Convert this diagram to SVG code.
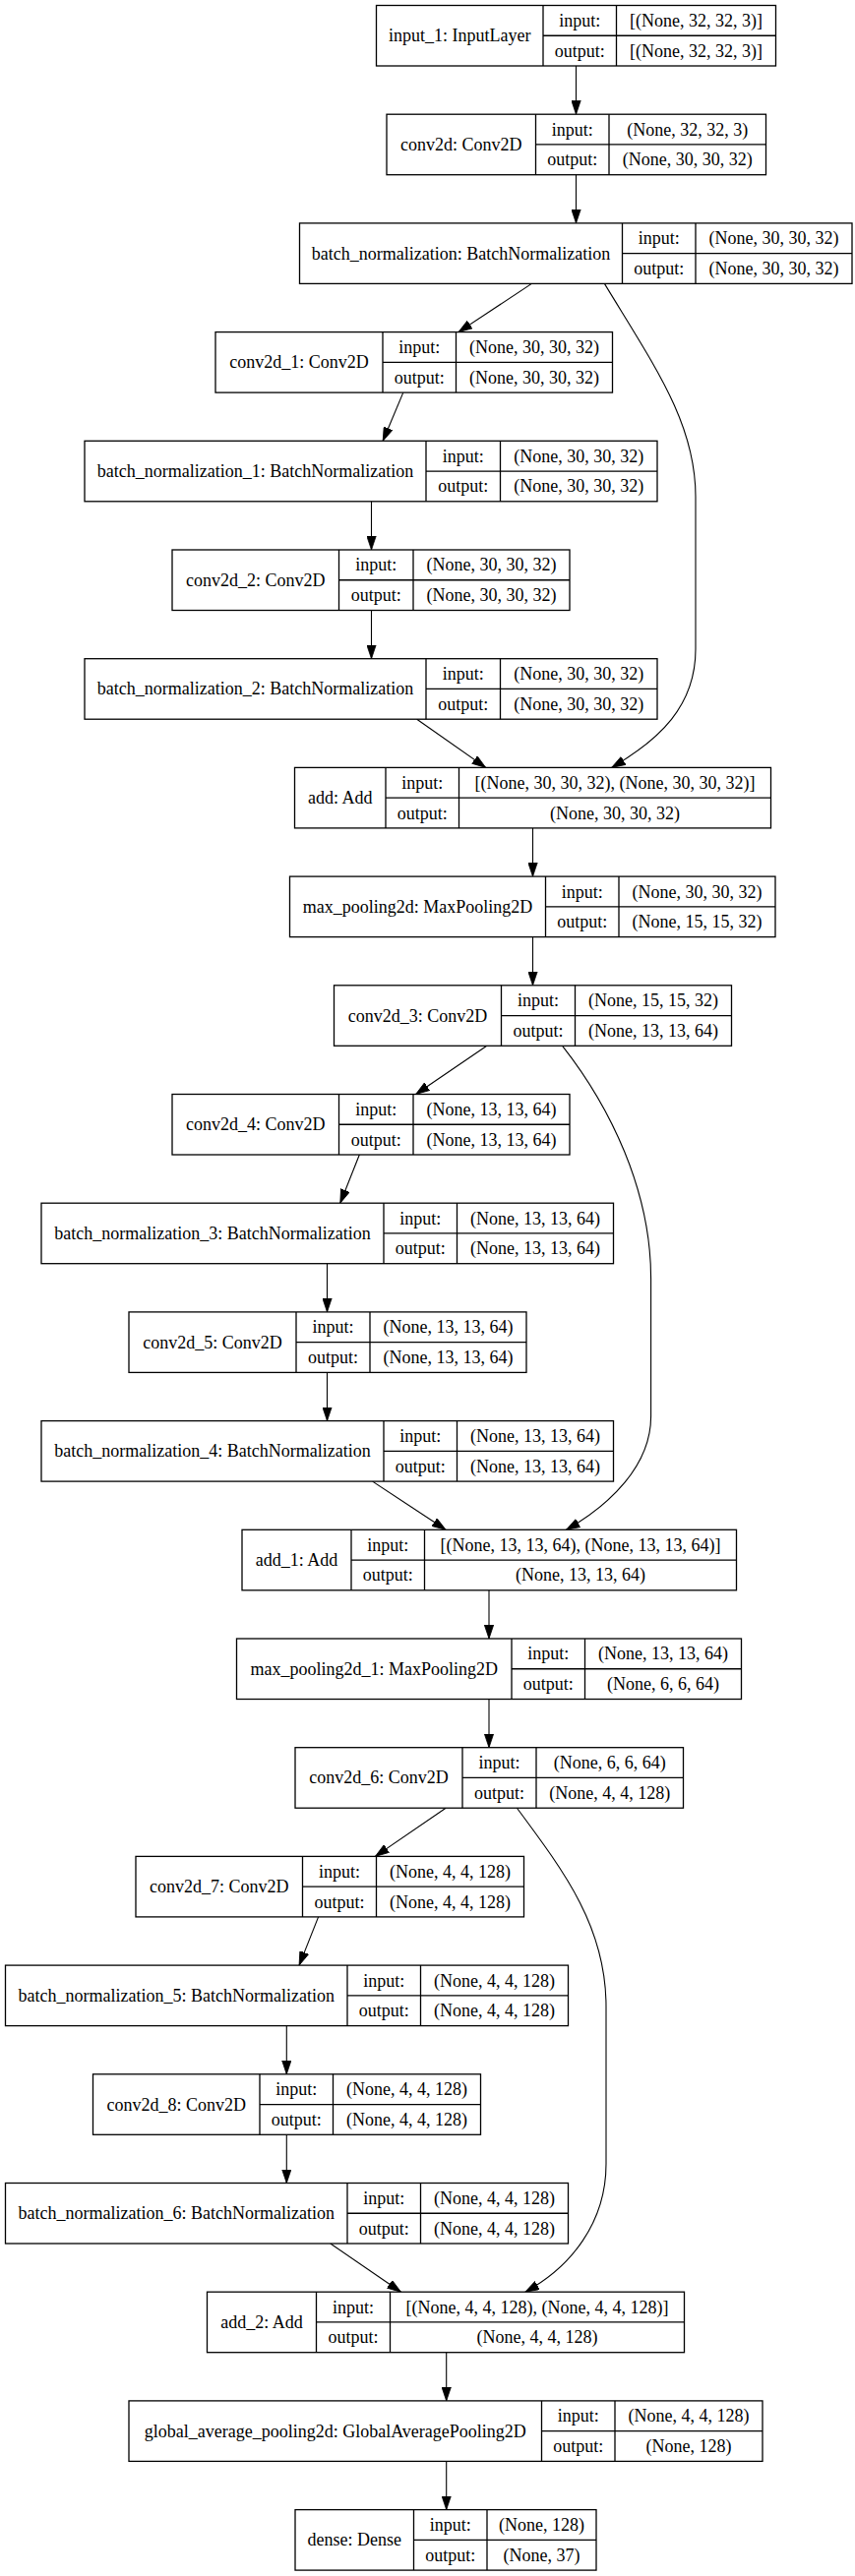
<svg xmlns="http://www.w3.org/2000/svg" width="869" height="2619" viewBox="0 0 869 2619">
<style>
.bg{fill:#ffffff}
.node rect{fill:#ffffff;stroke:#000000;stroke-width:1.3}
.node path{fill:none;stroke:#000000;stroke-width:1.3}
text{font-family:"Liberation Serif","Times New Roman",serif;font-size:18px;fill:#000000;text-anchor:middle}
.edges path{fill:none;stroke:#000000;stroke-width:1.1}
</style>
<defs>
<marker id="arr" markerUnits="userSpaceOnUse" viewBox="0 0 14 10" markerWidth="14" markerHeight="10" refX="14" refY="5" orient="auto">
<path d="M0,0.3 L14,5 L0,9.7 z" fill="#000000" stroke="#000000" stroke-width="0.8"/>
</marker>
</defs>
<rect class="bg" x="0" y="0" width="869" height="2619"/>

<g class="edges" id="edges" marker-end="url(#arr)">
<path d="M585.5,67 L585.5,116.2"/>
<path d="M585.5,177.7 L585.5,226.9"/>
<path d="M540.4,288.4 L466,337.6"/>
<path d="M614.4,288.4 C665,372 707,430 707,505 L707,660 C707,718 670,752 621.6,780.4"/>
<path d="M409.8,399.1 L389.2,448.3"/>
<path d="M377.5,509.8 L377.5,559"/>
<path d="M377.5,620.5 L377.5,669.7"/>
<path d="M423.7,731.2 L493.7,780.4"/>
<path d="M541.5,841.9 L541.5,891.1"/>
<path d="M541.5,952.6 L541.5,1001.8"/>
<path d="M494.8,1063.3 L422.6,1112.5"/>
<path d="M571.6,1063.3 C620,1125 661.6,1210 661.6,1300 L661.6,1440 C661.6,1490 620,1530 575.5,1555.3"/>
<path d="M365.3,1174 L345.8,1223.2"/>
<path d="M332.5,1284.7 L332.5,1333.9"/>
<path d="M332.5,1395.4 L332.5,1444.6"/>
<path d="M378.6,1506.1 L453.1,1555.3"/>
<path d="M497,1616.8 L497,1666"/>
<path d="M497,1727.5 L497,1776.7"/>
<path d="M453.1,1838.2 L381.4,1887.4"/>
<path d="M525.4,1838.2 C575,1905 616,1960 616,2040 L616,2200 C616,2260 580,2305 533.8,2330.2"/>
<path d="M323.6,1948.9 L304.1,1998.1"/>
<path d="M291.3,2059.6 L291.3,2108.8"/>
<path d="M291.3,2170.3 L291.3,2219.5"/>
<path d="M335.8,2281 L407.5,2330.2"/>
<path d="M453.7,2391.7 L453.7,2440.9"/>
<path d="M453.7,2502.4 L453.7,2551.6"/>
</g>

<g class="node" id="input_1">
<rect x="382.5" y="5.5" width="406" height="61.5"/>
<path d="M552,5.5 V67 M626.5,5.5 V67 M552,36.25 H788.5"/>
<text x="467.25" y="42.25">input_1: InputLayer</text>
<text x="589.25" y="26.9">input:</text><text x="707.5" y="26.9">[(None, 32, 32, 3)]</text>
<text x="589.25" y="57.6">output:</text><text x="707.5" y="57.6">[(None, 32, 32, 3)]</text>
</g>

<g class="node" id="conv2d">
<rect x="393" y="116.2" width="385.5" height="61.5"/>
<path d="M544.5,116.2 V177.7 M619,116.2 V177.7 M544.5,146.95 H778.5"/>
<text x="468.75" y="152.95">conv2d: Conv2D</text>
<text x="581.75" y="137.6">input:</text><text x="698.75" y="137.6">(None, 32, 32, 3)</text>
<text x="581.75" y="168.3">output:</text><text x="698.75" y="168.3">(None, 30, 30, 32)</text>
</g>

<g class="node" id="batch_normalization">
<rect x="304.5" y="226.9" width="561.5" height="61.5"/>
<path d="M632.5,226.9 V288.4 M707,226.9 V288.4 M632.5,257.65 H866"/>
<text x="468.5" y="263.65">batch_normalization: BatchNormalization</text>
<text x="669.75" y="248.3">input:</text><text x="786.5" y="248.3">(None, 30, 30, 32)</text>
<text x="669.75" y="279">output:</text><text x="786.5" y="279">(None, 30, 30, 32)</text>
</g>

<g class="node" id="conv2d_1">
<rect x="219" y="337.6" width="403.5" height="61.5"/>
<path d="M389,337.6 V399.1 M463.5,337.6 V399.1 M389,368.35 H622.5"/>
<text x="304" y="374.35">conv2d_1: Conv2D</text>
<text x="426.25" y="359">input:</text><text x="543" y="359">(None, 30, 30, 32)</text>
<text x="426.25" y="389.7">output:</text><text x="543" y="389.7">(None, 30, 30, 32)</text>
</g>

<g class="node" id="batch_normalization_1">
<rect x="86" y="448.3" width="582" height="61.5"/>
<path d="M433,448.3 V509.8 M508.5,448.3 V509.8 M433,479.05 H668"/>
<text x="259.5" y="485.05">batch_normalization_1: BatchNormalization</text>
<text x="470.75" y="469.7">input:</text><text x="588.25" y="469.7">(None, 30, 30, 32)</text>
<text x="470.75" y="500.4">output:</text><text x="588.25" y="500.4">(None, 30, 30, 32)</text>
</g>

<g class="node" id="conv2d_2">
<rect x="175" y="559" width="404" height="61.5"/>
<path d="M344.5,559 V620.5 M420,559 V620.5 M344.5,589.75 H579"/>
<text x="259.75" y="595.75">conv2d_2: Conv2D</text>
<text x="382.25" y="580.4">input:</text><text x="499.5" y="580.4">(None, 30, 30, 32)</text>
<text x="382.25" y="611.1">output:</text><text x="499.5" y="611.1">(None, 30, 30, 32)</text>
</g>

<g class="node" id="batch_normalization_2">
<rect x="86" y="669.7" width="582" height="61.5"/>
<path d="M433,669.7 V731.2 M508.5,669.7 V731.2 M433,700.45 H668"/>
<text x="259.5" y="706.45">batch_normalization_2: BatchNormalization</text>
<text x="470.75" y="691.1">input:</text><text x="588.25" y="691.1">(None, 30, 30, 32)</text>
<text x="470.75" y="721.8">output:</text><text x="588.25" y="721.8">(None, 30, 30, 32)</text>
</g>

<g class="node" id="add">
<rect x="299.5" y="780.4" width="484" height="61.5"/>
<path d="M392,780.4 V841.9 M466.5,780.4 V841.9 M392,811.15 H783.5"/>
<text x="345.75" y="817.15">add: Add</text>
<text x="429.25" y="801.8">input:</text><text x="625" y="801.8">[(None, 30, 30, 32), (None, 30, 30, 32)]</text>
<text x="429.25" y="832.5">output:</text><text x="625" y="832.5">(None, 30, 30, 32)</text>
</g>

<g class="node" id="max_pooling2d">
<rect x="294.5" y="891.1" width="493.5" height="61.5"/>
<path d="M554.5,891.1 V952.6 M629,891.1 V952.6 M554.5,921.85 H788"/>
<text x="424.5" y="927.85">max_pooling2d: MaxPooling2D</text>
<text x="591.75" y="912.5">input:</text><text x="708.5" y="912.5">(None, 30, 30, 32)</text>
<text x="591.75" y="943.2">output:</text><text x="708.5" y="943.2">(None, 15, 15, 32)</text>
</g>

<g class="node" id="conv2d_3">
<rect x="339.5" y="1001.8" width="404" height="61.5"/>
<path d="M509.5,1001.8 V1063.3 M584.5,1001.8 V1063.3 M509.5,1032.55 H743.5"/>
<text x="424.5" y="1038.55">conv2d_3: Conv2D</text>
<text x="547" y="1023.2">input:</text><text x="664" y="1023.2">(None, 15, 15, 32)</text>
<text x="547" y="1053.9">output:</text><text x="664" y="1053.9">(None, 13, 13, 64)</text>
</g>

<g class="node" id="conv2d_4">
<rect x="175" y="1112.5" width="404" height="61.5"/>
<path d="M344.5,1112.5 V1174 M420,1112.5 V1174 M344.5,1143.25 H579"/>
<text x="259.75" y="1149.25">conv2d_4: Conv2D</text>
<text x="382.25" y="1133.9">input:</text><text x="499.5" y="1133.9">(None, 13, 13, 64)</text>
<text x="382.25" y="1164.6">output:</text><text x="499.5" y="1164.6">(None, 13, 13, 64)</text>
</g>

<g class="node" id="batch_normalization_3">
<rect x="42" y="1223.2" width="581.5" height="61.5"/>
<path d="M390,1223.2 V1284.7 M464.5,1223.2 V1284.7 M390,1253.95 H623.5"/>
<text x="216" y="1259.95">batch_normalization_3: BatchNormalization</text>
<text x="427.25" y="1244.6">input:</text><text x="544" y="1244.6">(None, 13, 13, 64)</text>
<text x="427.25" y="1275.3">output:</text><text x="544" y="1275.3">(None, 13, 13, 64)</text>
</g>

<g class="node" id="conv2d_5">
<rect x="131" y="1333.9" width="404" height="61.5"/>
<path d="M301,1333.9 V1395.4 M376,1333.9 V1395.4 M301,1364.65 H535"/>
<text x="216" y="1370.65">conv2d_5: Conv2D</text>
<text x="338.5" y="1355.3">input:</text><text x="455.5" y="1355.3">(None, 13, 13, 64)</text>
<text x="338.5" y="1386">output:</text><text x="455.5" y="1386">(None, 13, 13, 64)</text>
</g>

<g class="node" id="batch_normalization_4">
<rect x="42" y="1444.6" width="581.5" height="61.5"/>
<path d="M390,1444.6 V1506.1 M464.5,1444.6 V1506.1 M390,1475.35 H623.5"/>
<text x="216" y="1481.35">batch_normalization_4: BatchNormalization</text>
<text x="427.25" y="1466">input:</text><text x="544" y="1466">(None, 13, 13, 64)</text>
<text x="427.25" y="1496.7">output:</text><text x="544" y="1496.7">(None, 13, 13, 64)</text>
</g>

<g class="node" id="add_1">
<rect x="246" y="1555.3" width="502.5" height="61.5"/>
<path d="M357,1555.3 V1616.8 M431.5,1555.3 V1616.8 M357,1586.05 H748.5"/>
<text x="301.5" y="1592.05">add_1: Add</text>
<text x="394.25" y="1576.7">input:</text><text x="590" y="1576.7">[(None, 13, 13, 64), (None, 13, 13, 64)]</text>
<text x="394.25" y="1607.4">output:</text><text x="590" y="1607.4">(None, 13, 13, 64)</text>
</g>

<g class="node" id="max_pooling2d_1">
<rect x="240.5" y="1666" width="513" height="61.5"/>
<path d="M520,1666 V1727.5 M594.5,1666 V1727.5 M520,1696.75 H753.5"/>
<text x="380.25" y="1702.75">max_pooling2d_1: MaxPooling2D</text>
<text x="557.25" y="1687.4">input:</text><text x="674" y="1687.4">(None, 13, 13, 64)</text>
<text x="557.25" y="1718.1">output:</text><text x="674" y="1718.1">(None, 6, 6, 64)</text>
</g>

<g class="node" id="conv2d_6">
<rect x="300" y="1776.7" width="394.5" height="61.5"/>
<path d="M470,1776.7 V1838.2 M545,1776.7 V1838.2 M470,1807.45 H694.5"/>
<text x="385" y="1813.45">conv2d_6: Conv2D</text>
<text x="507.5" y="1798.1">input:</text><text x="619.75" y="1798.1">(None, 6, 6, 64)</text>
<text x="507.5" y="1828.8">output:</text><text x="619.75" y="1828.8">(None, 4, 4, 128)</text>
</g>

<g class="node" id="conv2d_7">
<rect x="138" y="1887.4" width="394.5" height="61.5"/>
<path d="M307.5,1887.4 V1948.9 M382.5,1887.4 V1948.9 M307.5,1918.15 H532.5"/>
<text x="222.75" y="1924.15">conv2d_7: Conv2D</text>
<text x="345" y="1908.8">input:</text><text x="457.5" y="1908.8">(None, 4, 4, 128)</text>
<text x="345" y="1939.5">output:</text><text x="457.5" y="1939.5">(None, 4, 4, 128)</text>
</g>

<g class="node" id="batch_normalization_5">
<rect x="5.5" y="1998.1" width="572" height="61.5"/>
<path d="M353,1998.1 V2059.6 M427.5,1998.1 V2059.6 M353,2028.85 H577.5"/>
<text x="179.25" y="2034.85">batch_normalization_5: BatchNormalization</text>
<text x="390.25" y="2019.5">input:</text><text x="502.5" y="2019.5">(None, 4, 4, 128)</text>
<text x="390.25" y="2050.2">output:</text><text x="502.5" y="2050.2">(None, 4, 4, 128)</text>
</g>

<g class="node" id="conv2d_8">
<rect x="94.5" y="2108.8" width="394" height="61.5"/>
<path d="M264,2108.8 V2170.3 M338.5,2108.8 V2170.3 M264,2139.55 H488.5"/>
<text x="179.25" y="2145.55">conv2d_8: Conv2D</text>
<text x="301.25" y="2130.2">input:</text><text x="413.5" y="2130.2">(None, 4, 4, 128)</text>
<text x="301.25" y="2160.9">output:</text><text x="413.5" y="2160.9">(None, 4, 4, 128)</text>
</g>

<g class="node" id="batch_normalization_6">
<rect x="5.5" y="2219.5" width="572" height="61.5"/>
<path d="M353,2219.5 V2281 M427.5,2219.5 V2281 M353,2250.25 H577.5"/>
<text x="179.25" y="2256.25">batch_normalization_6: BatchNormalization</text>
<text x="390.25" y="2240.9">input:</text><text x="502.5" y="2240.9">(None, 4, 4, 128)</text>
<text x="390.25" y="2271.6">output:</text><text x="502.5" y="2271.6">(None, 4, 4, 128)</text>
</g>

<g class="node" id="add_2">
<rect x="210.5" y="2330.2" width="485" height="61.5"/>
<path d="M321.5,2330.2 V2391.7 M396.5,2330.2 V2391.7 M321.5,2360.95 H695.5"/>
<text x="266" y="2366.95">add_2: Add</text>
<text x="359" y="2351.6">input:</text><text x="546" y="2351.6">[(None, 4, 4, 128), (None, 4, 4, 128)]</text>
<text x="359" y="2382.3">output:</text><text x="546" y="2382.3">(None, 4, 4, 128)</text>
</g>

<g class="node" id="global_average_pooling2d">
<rect x="131" y="2440.9" width="644" height="61.5"/>
<path d="M550.5,2440.9 V2502.4 M625,2440.9 V2502.4 M550.5,2471.65 H775"/>
<text x="340.75" y="2477.65">global_average_pooling2d: GlobalAveragePooling2D</text>
<text x="587.75" y="2462.3">input:</text><text x="700" y="2462.3">(None, 4, 4, 128)</text>
<text x="587.75" y="2493">output:</text><text x="700" y="2493">(None, 128)</text>
</g>

<g class="node" id="dense">
<rect x="300" y="2551.6" width="306" height="61.5"/>
<path d="M420.5,2551.6 V2613.1 M495,2551.6 V2613.1 M420.5,2582.35 H606"/>
<text x="360.25" y="2588.35">dense: Dense</text>
<text x="457.75" y="2573">input:</text><text x="550.5" y="2573">(None, 128)</text>
<text x="457.75" y="2603.7">output:</text><text x="550.5" y="2603.7">(None, 37)</text>
</g>
</svg>
